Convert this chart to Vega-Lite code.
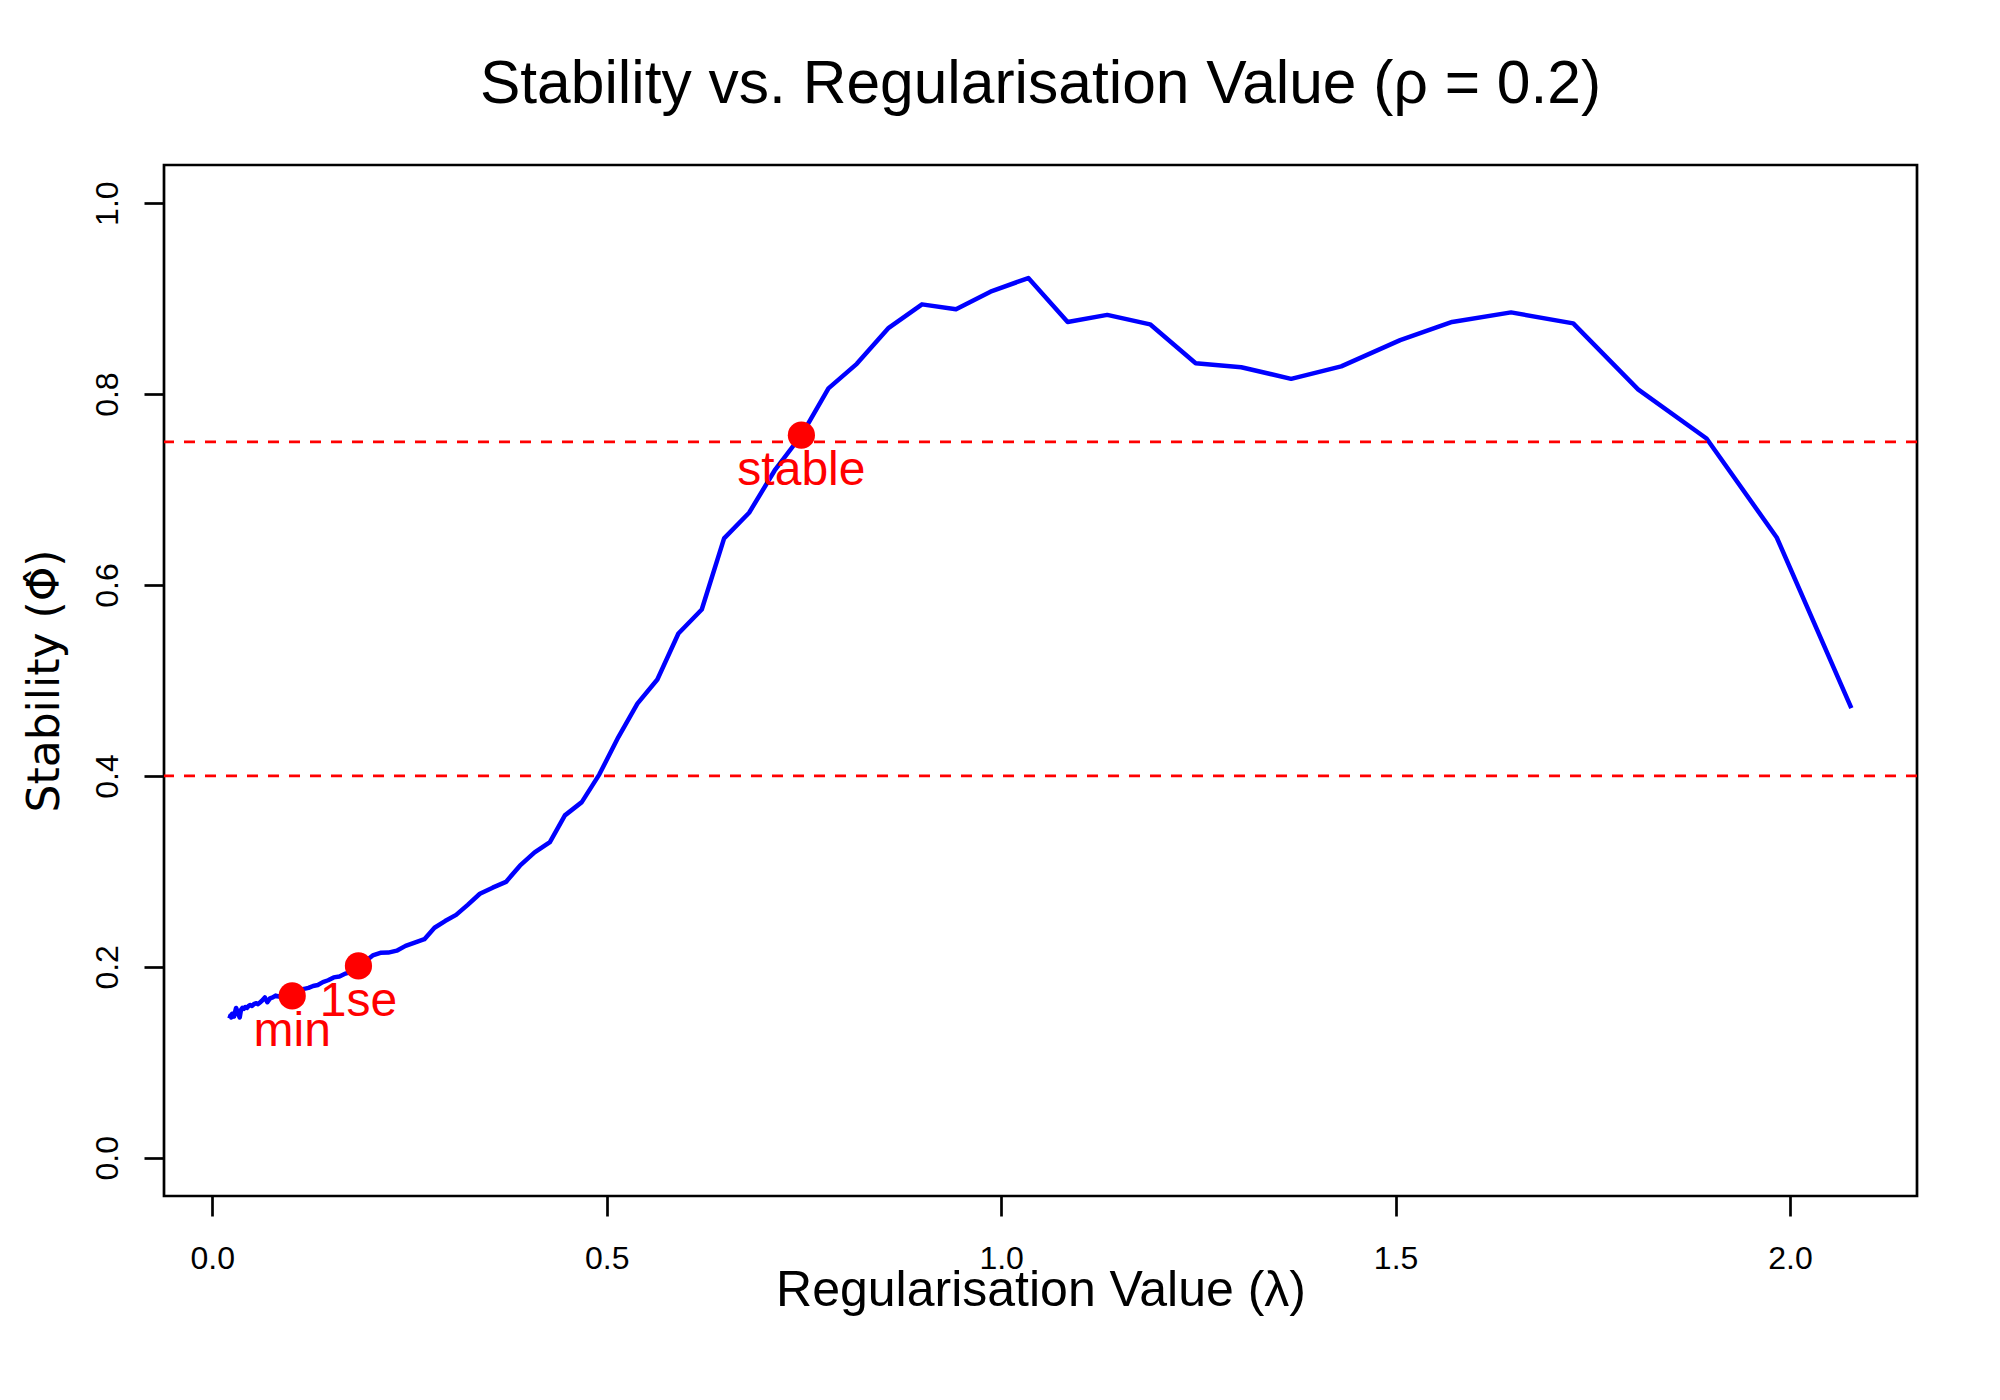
{
  "$schema": "https://vega.github.io/schema/vega-lite/v6.json",
  "width": 1753,
  "height": 1031,
  "autosize": {"type": "none"},
  "padding": {"left": 164, "top": 165, "right": 83, "bottom": 204},
  "background": "white",
  "title": {
    "text": "Stability vs. Regularisation Value (ρ = 0.2)",
    "font": "Liberation Sans",
    "fontSize": 60.5,
    "fontWeight": "normal",
    "color": "black",
    "anchor": "middle",
    "baseline": "alphabetic",
    "offset": 2
  },
  "datasets": {
    "curve": [
      {"lambda": 0.0218, "stability": 0.146},
      {"lambda": 0.0229, "stability": 0.149},
      {"lambda": 0.0240, "stability": 0.147},
      {"lambda": 0.0251, "stability": 0.151},
      {"lambda": 0.0263, "stability": 0.150},
      {"lambda": 0.0276, "stability": 0.148},
      {"lambda": 0.0289, "stability": 0.153},
      {"lambda": 0.0302, "stability": 0.157},
      {"lambda": 0.0317, "stability": 0.154},
      {"lambda": 0.0332, "stability": 0.150},
      {"lambda": 0.0348, "stability": 0.147},
      {"lambda": 0.0364, "stability": 0.155},
      {"lambda": 0.0382, "stability": 0.157},
      {"lambda": 0.0400, "stability": 0.156},
      {"lambda": 0.0419, "stability": 0.158},
      {"lambda": 0.0439, "stability": 0.157},
      {"lambda": 0.0460, "stability": 0.159},
      {"lambda": 0.0481, "stability": 0.160},
      {"lambda": 0.0504, "stability": 0.159},
      {"lambda": 0.0528, "stability": 0.161},
      {"lambda": 0.0553, "stability": 0.162},
      {"lambda": 0.0580, "stability": 0.161},
      {"lambda": 0.0608, "stability": 0.163},
      {"lambda": 0.0636, "stability": 0.165},
      {"lambda": 0.0667, "stability": 0.168},
      {"lambda": 0.0698, "stability": 0.163},
      {"lambda": 0.0732, "stability": 0.167},
      {"lambda": 0.0766, "stability": 0.168},
      {"lambda": 0.0803, "stability": 0.170},
      {"lambda": 0.0841, "stability": 0.169},
      {"lambda": 0.0881, "stability": 0.170},
      {"lambda": 0.0923, "stability": 0.170},
      {"lambda": 0.0967, "stability": 0.169},
      {"lambda": 0.1013, "stability": 0.170},
      {"lambda": 0.1061, "stability": 0.172},
      {"lambda": 0.1111, "stability": 0.175},
      {"lambda": 0.1164, "stability": 0.177},
      {"lambda": 0.1220, "stability": 0.178},
      {"lambda": 0.1278, "stability": 0.180},
      {"lambda": 0.1338, "stability": 0.181},
      {"lambda": 0.1402, "stability": 0.184},
      {"lambda": 0.1469, "stability": 0.186},
      {"lambda": 0.1539, "stability": 0.189},
      {"lambda": 0.1612, "stability": 0.190},
      {"lambda": 0.1689, "stability": 0.193},
      {"lambda": 0.1769, "stability": 0.195},
      {"lambda": 0.1853, "stability": 0.201},
      {"lambda": 0.1941, "stability": 0.206},
      {"lambda": 0.2034, "stability": 0.212},
      {"lambda": 0.2131, "stability": 0.2147},
      {"lambda": 0.2232, "stability": 0.2150},
      {"lambda": 0.2338, "stability": 0.217},
      {"lambda": 0.2450, "stability": 0.222},
      {"lambda": 0.2566, "stability": 0.2255},
      {"lambda": 0.2689, "stability": 0.229},
      {"lambda": 0.2817, "stability": 0.241},
      {"lambda": 0.2951, "stability": 0.248},
      {"lambda": 0.3091, "stability": 0.2545},
      {"lambda": 0.3238, "stability": 0.265},
      {"lambda": 0.3392, "stability": 0.2766},
      {"lambda": 0.3554, "stability": 0.283},
      {"lambda": 0.3723, "stability": 0.289},
      {"lambda": 0.3900, "stability": 0.306},
      {"lambda": 0.4086, "stability": 0.320},
      {"lambda": 0.4280, "stability": 0.3307},
      {"lambda": 0.4470, "stability": 0.3587},
      {"lambda": 0.4684, "stability": 0.3726},
      {"lambda": 0.4907, "stability": 0.4017},
      {"lambda": 0.5148, "stability": 0.4408},
      {"lambda": 0.5389, "stability": 0.4758},
      {"lambda": 0.5642, "stability": 0.5010},
      {"lambda": 0.5909, "stability": 0.5492},
      {"lambda": 0.6205, "stability": 0.5744},
      {"lambda": 0.6488, "stability": 0.6489},
      {"lambda": 0.6805, "stability": 0.6757},
      {"lambda": 0.7129, "stability": 0.720},
      {"lambda": 0.7468, "stability": 0.7569},
      {"lambda": 0.7811, "stability": 0.806},
      {"lambda": 0.8170, "stability": 0.8317},
      {"lambda": 0.8575, "stability": 0.8694},
      {"lambda": 0.8997, "stability": 0.894},
      {"lambda": 0.9428, "stability": 0.889},
      {"lambda": 0.9865, "stability": 0.9073},
      {"lambda": 1.0345, "stability": 0.9216},
      {"lambda": 1.0843, "stability": 0.8756},
      {"lambda": 1.1345, "stability": 0.883},
      {"lambda": 1.1888, "stability": 0.8731},
      {"lambda": 1.2466, "stability": 0.8323},
      {"lambda": 1.3044, "stability": 0.8282},
      {"lambda": 1.3676, "stability": 0.816},
      {"lambda": 1.4311, "stability": 0.829},
      {"lambda": 1.5059, "stability": 0.8565},
      {"lambda": 1.5717, "stability": 0.8756},
      {"lambda": 1.6464, "stability": 0.8856},
      {"lambda": 1.7252, "stability": 0.8741},
      {"lambda": 1.8074, "stability": 0.805},
      {"lambda": 1.8942, "stability": 0.7535},
      {"lambda": 1.9832, "stability": 0.6498},
      {"lambda": 2.0778, "stability": 0.471}
    ],
    "picks": [
      {"lambda": 0.1013, "stability": 0.1696, "label": "min"},
      {"lambda": 0.1853, "stability": 0.201, "label": "1se"},
      {"lambda": 0.7468, "stability": 0.757, "label": "stable"}
    ],
    "bounds": [
      {"stability": 0.75},
      {"stability": 0.4}
    ]
  },
  "encoding": {
    "x": {
      "field": "lambda",
      "type": "quantitative",
      "scale": {"domain": [-0.0612, 2.161], "nice": false, "zero": false},
      "axis": {
        "title": "Regularisation Value (λ)",
        "values": [0, 0.5, 1, 1.5, 2],
        "format": ".1f",
        "grid": false,
        "domain": false,
        "tickSize": 20,
        "tickWidth": 2.7,
        "tickColor": "black",
        "labelFontSize": 32,
        "labelColor": "black",
        "labelBaseline": "alphabetic",
        "labelPadding": 52,
        "labelFlush": false,
        "titleFontSize": 50,
        "titleFontWeight": "normal",
        "titleColor": "black",
        "titleBaseline": "alphabetic",
        "titleX": 876.5,
        "titleY": 109
      }
    },
    "y": {
      "field": "stability",
      "type": "quantitative",
      "scale": {"domain": [-0.04, 1.04], "nice": false, "zero": false},
      "axis": {
        "title": "Stability (Φ̂)",
        "values": [0, 0.2, 0.4, 0.6, 0.8, 1],
        "format": ".1f",
        "grid": false,
        "domain": false,
        "tickSize": 20,
        "tickWidth": 2.7,
        "tickColor": "black",
        "labelFontSize": 32,
        "labelColor": "black",
        "labelAngle": -90,
        "labelAlign": "center",
        "labelBaseline": "alphabetic",
        "labelPadding": 27,
        "labelFlush": false,
        "titleFont": "DejaVu Sans",
        "titleFontSize": 44,
        "titleFontWeight": "normal",
        "titleColor": "black",
        "titleAngle": -90,
        "titleBaseline": "alphabetic",
        "titleX": -106,
        "titleY": 515.5
      }
    }
  },
  "layer": [
    {
      "data": {"name": "curve"},
      "mark": {"type": "line", "color": "#0000FF", "strokeWidth": 4.5, "strokeJoin": "round"}
    },
    {
      "data": {"name": "bounds"},
      "mark": {"type": "rule", "color": "#FF0000", "strokeWidth": 2.7, "strokeDash": [11, 10]},
      "encoding": {"x": null}
    },
    {
      "data": {"name": "picks"},
      "mark": {"type": "point", "filled": true, "shape": "circle", "size": 740, "color": "#FF0000", "opacity": 1}
    },
    {
      "data": {"name": "picks"},
      "mark": {"type": "text", "color": "#FF0000", "fontSize": 48, "font": "Liberation Sans", "align": "center", "baseline": "alphabetic", "dy": 50},
      "encoding": {"text": {"field": "label"}}
    }
  ],
  "config": {
    "font": "Liberation Sans",
    "view": {"stroke": "black", "strokeWidth": 2.7},
    "axis": {"labelFont": "Liberation Sans", "titleFont": "Liberation Sans"}
  }
}
